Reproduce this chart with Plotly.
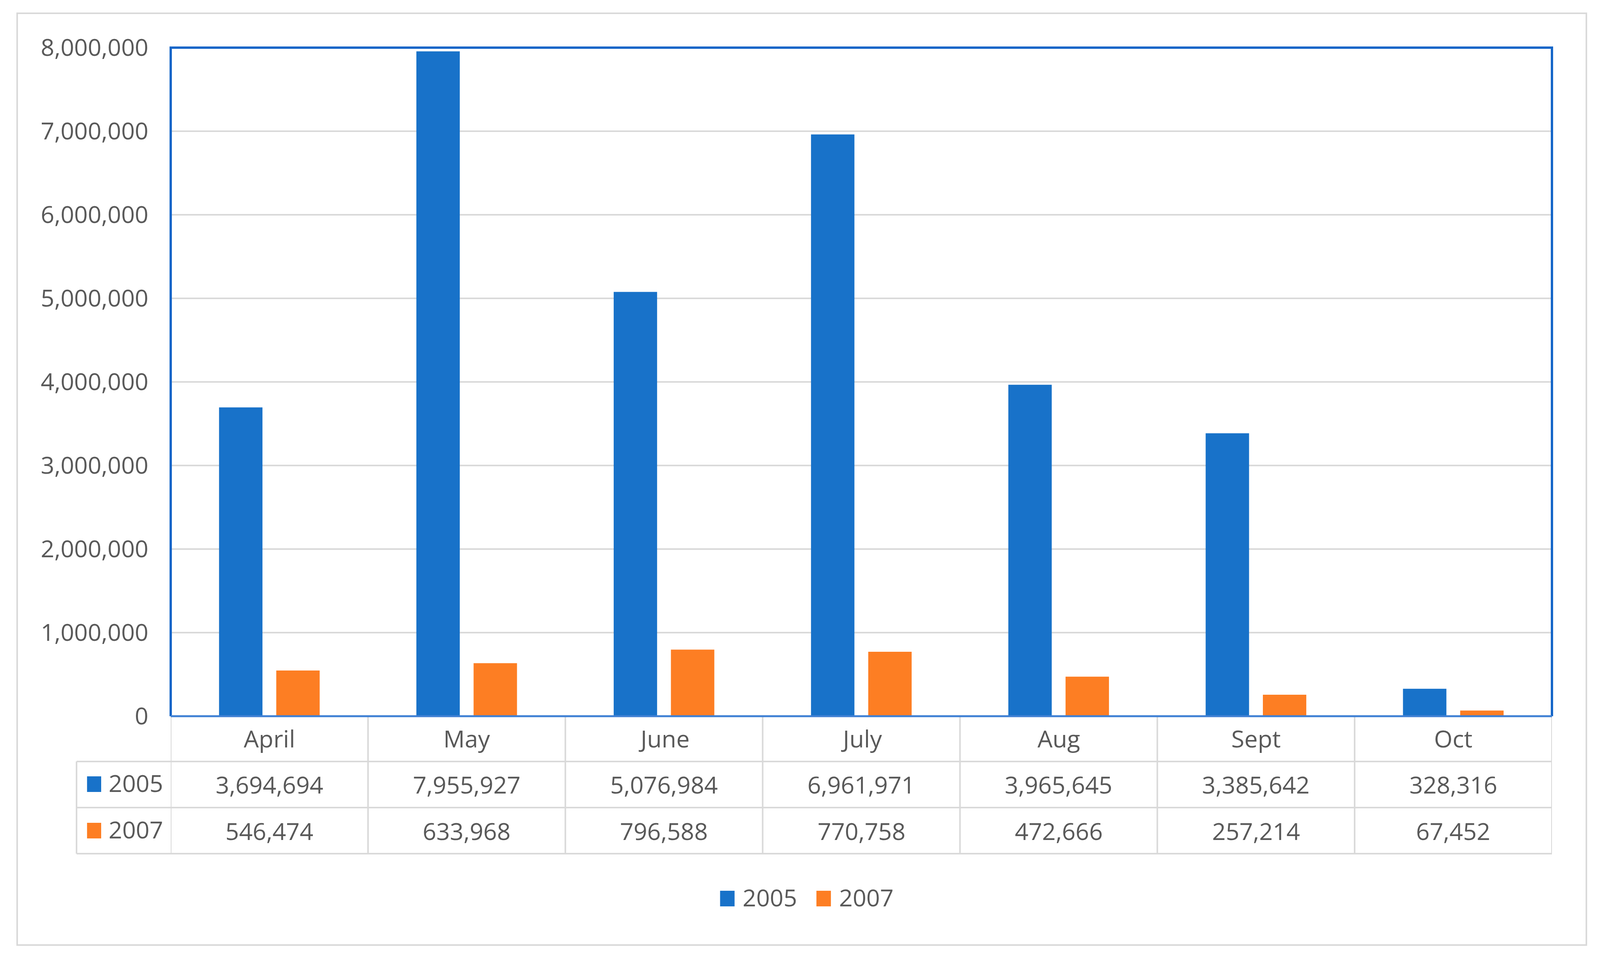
import plotly.graph_objects as go

months = ["April", "May", "June", "July", "Aug", "Sept", "Oct"]
series_names = ["2005", "2007"]
values_2005 = [3694694, 7955927, 5076984, 6961971, 3965645, 3385642, 328316]
values_2007 = [546474, 633968, 796588, 770758, 472666, 257214, 67452]
y_ticks = [0, 1000000, 2000000, 3000000, 4000000, 5000000, 6000000, 7000000, 8000000]

colors = ["#1872C9", "#FD7E23"]
text_color = "#595959"
grid_color = "#D9D9D9"
font = "Open Sans"
fsize = 61

# the browser viewport is 4096 wide, the reference 4419: squeeze x only
SX = 4096 / 4419
W, H = 4080, 2450  # leaves room for the 8px body margin


def fx(X):
    return X * SX - 8


def fy(Y):
    return Y - 8


L, R, T, B = fx(472), fx(4286), fy(122), fy(1834)  # plot area


def px(X):
    return (fx(X) - L) / (R - L)


def py(Y):
    return (B - fy(Y)) / (B - T)


fig = go.Figure()
series = [values_2005, values_2007]
offsets = [-0.255, 0.035]
for name, vals, col, off in zip(series_names, series, colors, offsets):
    fig.add_trace(go.Bar(
        x=months, y=vals, name=name,
        marker=dict(color=col, line=dict(width=0)),
        width=0.22, offset=off, showlegend=False,
    ))

shapes = []
# outer chart frame
shapes.append(dict(type="rect", xref="paper", yref="paper",
                   x0=px(48), x1=px(4381), y0=py(34), y1=py(2420),
                   line=dict(color=grid_color, width=4), layer="below"))

# table grid
for Y in [1950, 2068, 2186]:
    shapes.append(dict(type="line", xref="paper", yref="paper",
                       x0=px(212), x1=1, y0=py(Y), y1=py(Y),
                       line=dict(color=grid_color, width=4)))
for i in range(len(months) + 1):
    shapes.append(dict(type="line", xref="x", yref="paper",
                       x0=i - 0.5, x1=i - 0.5, y0=0, y1=py(2186),
                       line=dict(color=grid_color, width=4)))
shapes.append(dict(type="line", xref="paper", yref="paper",
                   x0=px(212), x1=px(212), y0=py(1950), y1=py(2186),
                   line=dict(color=grid_color, width=4)))

# plot area border (left, top, right) and axis line
shapes.append(dict(type="path", xref="paper", yref="paper",
                   path="M 0 0 L 0 1 L 1 1 L 1 0",
                   line=dict(color="#1566C8", width=6)))
shapes.append(dict(type="line", xref="paper", yref="paper",
                   x0=0, x1=1, y0=0, y1=0,
                   line=dict(color="#3F80D4", width=5)))

annotations = []
# header row
for m in months:
    annotations.append(dict(x=m, y=py(1890), xref="x", yref="paper",
                            text=m, showarrow=False, xanchor="center",
                            yanchor="middle",
                            font=dict(family=font, size=fsize, color=text_color)))
# value rows
row_centers = [2008, 2127]
for name, vals, col, yc in zip(series_names, series, colors, row_centers):
    shapes.append(dict(type="rect", xref="paper", yref="paper",
                       x0=px(241), x1=px(280), y0=py(yc - 20), y1=py(yc + 20),
                       fillcolor=col, line=dict(width=0)))
    annotations.append(dict(x=px(298), y=py(yc - 4), xref="paper", yref="paper",
                            text=name, showarrow=False, xanchor="left",
                            yanchor="middle",
                            font=dict(family=font, size=fsize, color=text_color)))
    for m, v in zip(months, vals):
        annotations.append(dict(x=m, y=py(yc), xref="x", yref="paper",
                                text=f"{v:,}", showarrow=False,
                                xanchor="center", yanchor="middle",
                                font=dict(family=font, size=fsize, color=text_color)))

# bottom legend
for name, col, kx in zip(series_names, colors, [1989, 2255]):
    shapes.append(dict(type="rect", xref="paper", yref="paper",
                       x0=px(kx), x1=px(kx + 40), y0=py(2281), y1=py(2321),
                       fillcolor=col, line=dict(width=0)))
    annotations.append(dict(x=px(kx + 60), y=py(2297), xref="paper", yref="paper",
                            text=name, showarrow=False, xanchor="left",
                            yanchor="middle",
                            font=dict(family=font, size=fsize, color=text_color)))

fig.update_layout(
    width=W, height=H,
    margin=dict(l=L, r=W - R, t=T, b=H - B, pad=0),
    paper_bgcolor="white", plot_bgcolor="white",
    font=dict(family=font, size=fsize, color=text_color),
    shapes=shapes, annotations=annotations,
    xaxis=dict(showticklabels=False, showgrid=False, zeroline=False,
               showline=False, range=[-0.5, len(months) - 0.5]),
    yaxis=dict(range=[0, 8000000], tickvals=y_ticks, tickformat=",d",
               showgrid=True, gridcolor=grid_color, gridwidth=4,
               zeroline=False, showline=False, ticklabelstandoff=56,
               tickfont=dict(family=font, size=fsize, color=text_color)),
)

fig.write_html("out.html")
